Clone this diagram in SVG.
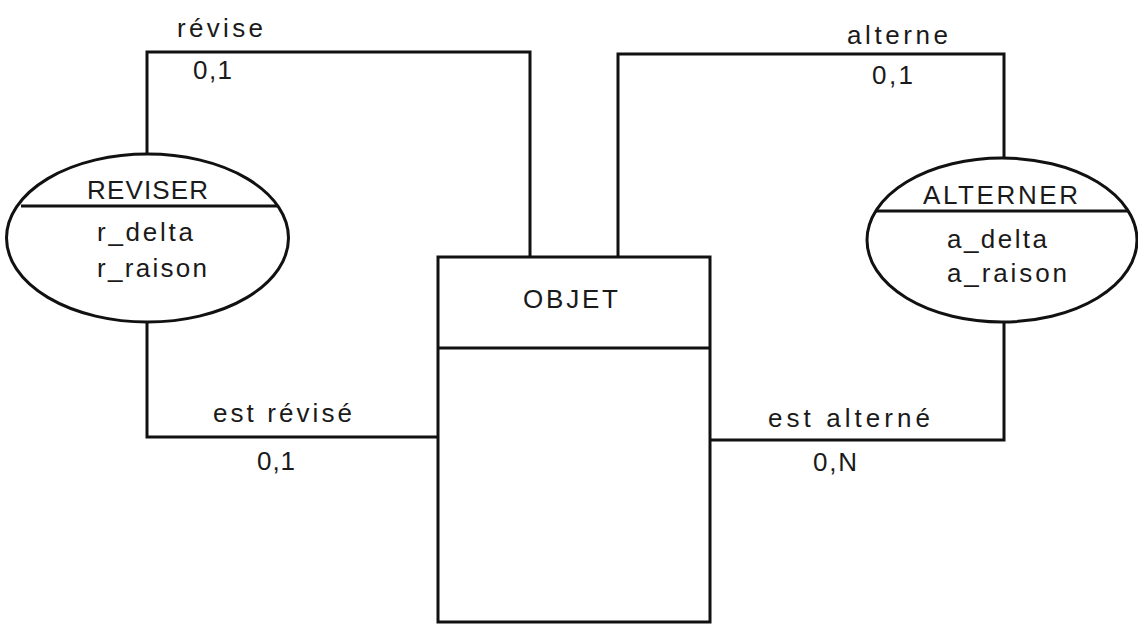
<svg xmlns="http://www.w3.org/2000/svg" width="1138" height="626" viewBox="0 0 1138 626">
<style>
.ln{fill:none;stroke:#111;stroke-width:3;stroke-linejoin:miter}
.sh{fill:#fff;stroke:#111;stroke-width:3}
.t{font-family:"Liberation Sans",Arial,sans-serif;font-size:26px;fill:#1a1a1a}
</style>
<rect width="1138" height="626" fill="#fff"/>
<g id="connectors">
<polyline class="ln" points="530,257 530,52 147,52 147,154"/>
<polyline class="ln" points="147,322 147,437 438,437"/>
<polyline class="ln" points="618,257 618,54 1004,54 1004,158"/>
<polyline class="ln" points="1004,322 1004,440 710,440"/>
<text class="t" x="177" y="37" textLength="86" lengthAdjust="spacing">révise</text>
<text class="t" x="193" y="79" textLength="39" lengthAdjust="spacing">0,1</text>
<text class="t" x="847" y="44" textLength="101" lengthAdjust="spacing">alterne</text>
<text class="t" x="872" y="84" textLength="41" lengthAdjust="spacing">0,1</text>
<text class="t" x="213" y="422" textLength="139" lengthAdjust="spacing">est révisé</text>
<text class="t" x="257" y="470" textLength="38" lengthAdjust="spacing">0,1</text>
<text class="t" x="768" y="427" textLength="162" lengthAdjust="spacing">est alterné</text>
<text class="t" x="813" y="471" textLength="44" lengthAdjust="spacing">0,N</text>
</g>
<g id="reviser">
<ellipse class="sh" cx="147.5" cy="238" rx="141" ry="84"/>
<line class="ln" x1="21" y1="206" x2="277" y2="206"/>
<text class="t" x="87" y="199" textLength="121" lengthAdjust="spacing">REVISER</text>
<text class="t" x="97" y="241" textLength="96" lengthAdjust="spacing">r_delta</text>
<text class="t" x="97" y="277" textLength="110" lengthAdjust="spacing">r_raison</text>
</g>
<g id="alterner">
<ellipse class="sh" cx="1002" cy="240" rx="135" ry="82"/>
<line class="ln" x1="876" y1="211" x2="1128" y2="211"/>
<text class="t" x="923" y="204" textLength="155" lengthAdjust="spacing">ALTERNER</text>
<text class="t" x="947" y="248" textLength="100" lengthAdjust="spacing">a_delta</text>
<text class="t" x="947" y="282" textLength="120" lengthAdjust="spacing">a_raison</text>
</g>
<g id="objet">
<rect class="sh" x="438" y="257" width="272" height="365"/>
<line class="ln" x1="438" y1="348" x2="710" y2="348"/>
<text class="t" x="523" y="308" textLength="95" lengthAdjust="spacing">OBJET</text>
</g>
</svg>
